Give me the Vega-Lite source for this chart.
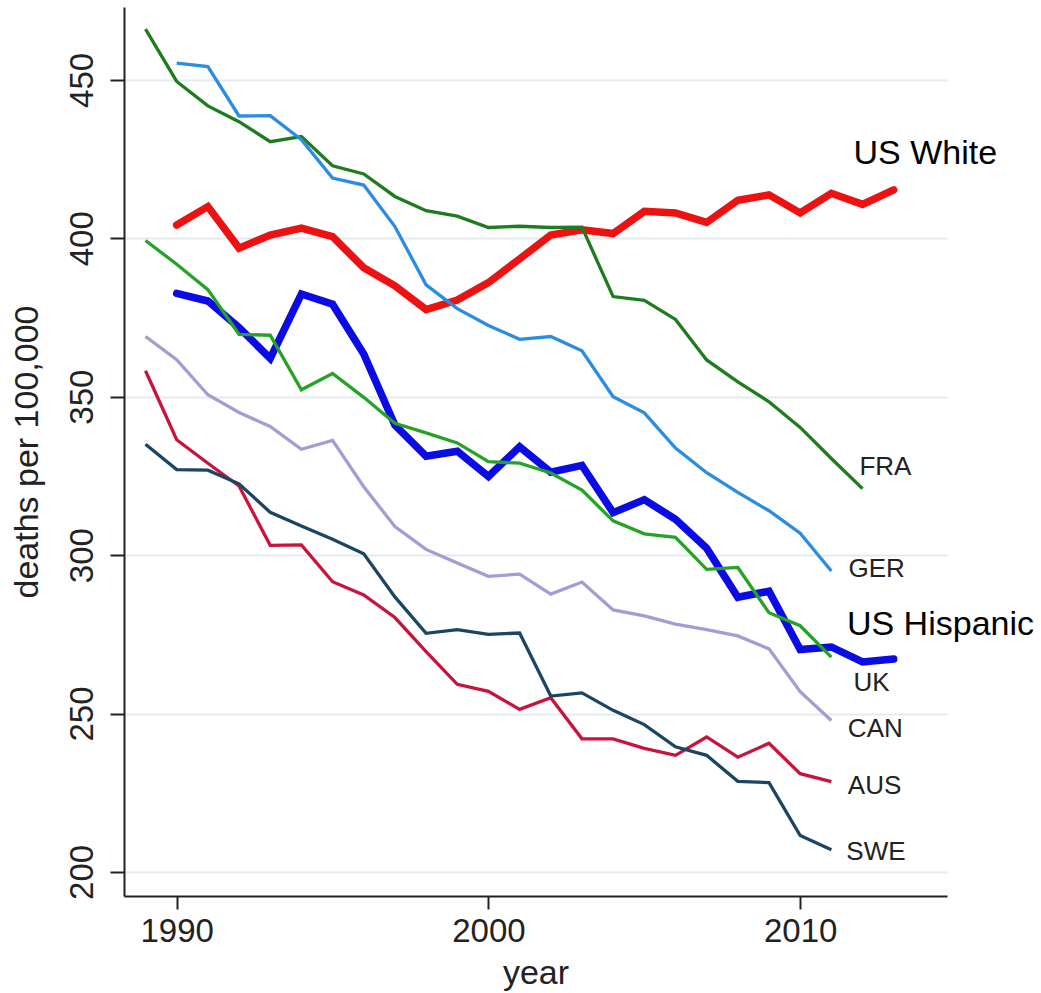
{
  "$schema": "https://vega.github.io/schema/vega-lite/v6.json",
  "width": 823,
  "height": 889,
  "autosize": {"type": "none"},
  "padding": {"left": 124, "top": 7, "right": 94, "bottom": 97},
  "background": "white",
  "config": {
    "view": {"stroke": null},
    "font": "Liberation Sans",
    "axis": {
      "labelFont": "Liberation Sans",
      "titleFont": "Liberation Sans",
      "labelColor": "#222222",
      "titleColor": "#222222",
      "titleFontWeight": "normal",
      "domainColor": "#222222",
      "domainWidth": 2,
      "tickColor": "#222222",
      "tickWidth": 2
    }
  },
  "datasets": {
    "series": [
      {"c": "FRA", "year": 1989, "v": 466},
      {"c": "FRA", "year": 1990, "v": 449.5},
      {"c": "FRA", "year": 1991, "v": 441.8},
      {"c": "FRA", "year": 1992, "v": 436.8},
      {"c": "FRA", "year": 1993, "v": 430.5},
      {"c": "FRA", "year": 1994, "v": 432.1},
      {"c": "FRA", "year": 1995, "v": 422.9},
      {"c": "FRA", "year": 1996, "v": 420.3},
      {"c": "FRA", "year": 1997, "v": 413.2},
      {"c": "FRA", "year": 1998, "v": 408.7},
      {"c": "FRA", "year": 1999, "v": 407},
      {"c": "FRA", "year": 2000, "v": 403.4},
      {"c": "FRA", "year": 2001, "v": 403.8},
      {"c": "FRA", "year": 2002, "v": 403.4},
      {"c": "FRA", "year": 2003, "v": 403.5},
      {"c": "FRA", "year": 2004, "v": 381.6},
      {"c": "FRA", "year": 2005, "v": 380.4},
      {"c": "FRA", "year": 2006, "v": 374.4},
      {"c": "FRA", "year": 2007, "v": 361.6},
      {"c": "FRA", "year": 2008, "v": 354.7},
      {"c": "FRA", "year": 2009, "v": 348.4},
      {"c": "FRA", "year": 2010, "v": 340.3},
      {"c": "FRA", "year": 2011, "v": 330.5},
      {"c": "FRA", "year": 2012, "v": 321},
      {"c": "GER", "year": 1990, "v": 455.3},
      {"c": "GER", "year": 1991, "v": 454.2},
      {"c": "GER", "year": 1992, "v": 438.6},
      {"c": "GER", "year": 1993, "v": 438.7},
      {"c": "GER", "year": 1994, "v": 431.1},
      {"c": "GER", "year": 1995, "v": 419},
      {"c": "GER", "year": 1996, "v": 416.8},
      {"c": "GER", "year": 1997, "v": 403.7},
      {"c": "GER", "year": 1998, "v": 385.3},
      {"c": "GER", "year": 1999, "v": 377.8},
      {"c": "GER", "year": 2000, "v": 372.5},
      {"c": "GER", "year": 2001, "v": 368.1},
      {"c": "GER", "year": 2002, "v": 369},
      {"c": "GER", "year": 2003, "v": 364.5},
      {"c": "GER", "year": 2004, "v": 350},
      {"c": "GER", "year": 2005, "v": 344.9},
      {"c": "GER", "year": 2006, "v": 333.8},
      {"c": "GER", "year": 2007, "v": 326},
      {"c": "GER", "year": 2008, "v": 319.8},
      {"c": "GER", "year": 2009, "v": 314},
      {"c": "GER", "year": 2010, "v": 306.9},
      {"c": "GER", "year": 2011, "v": 295},
      {"c": "UK", "year": 1989, "v": 399.3},
      {"c": "UK", "year": 1990, "v": 391.8},
      {"c": "UK", "year": 1991, "v": 383.8},
      {"c": "UK", "year": 1992, "v": 369.7},
      {"c": "UK", "year": 1993, "v": 369.4},
      {"c": "UK", "year": 1994, "v": 352.2},
      {"c": "UK", "year": 1995, "v": 357.3},
      {"c": "UK", "year": 1996, "v": 349.8},
      {"c": "UK", "year": 1997, "v": 341.6},
      {"c": "UK", "year": 1998, "v": 338.6},
      {"c": "UK", "year": 1999, "v": 335.4},
      {"c": "UK", "year": 2000, "v": 329.5},
      {"c": "UK", "year": 2001, "v": 329},
      {"c": "UK", "year": 2002, "v": 325.9},
      {"c": "UK", "year": 2003, "v": 320.5},
      {"c": "UK", "year": 2004, "v": 310.8},
      {"c": "UK", "year": 2005, "v": 306.7},
      {"c": "UK", "year": 2006, "v": 305.6},
      {"c": "UK", "year": 2007, "v": 295.5},
      {"c": "UK", "year": 2008, "v": 296.1},
      {"c": "UK", "year": 2009, "v": 281.8},
      {"c": "UK", "year": 2010, "v": 277.7},
      {"c": "UK", "year": 2011, "v": 267.8},
      {"c": "CAN", "year": 1989, "v": 369},
      {"c": "CAN", "year": 1990, "v": 361.7},
      {"c": "CAN", "year": 1991, "v": 350.6},
      {"c": "CAN", "year": 1992, "v": 345},
      {"c": "CAN", "year": 1993, "v": 340.6},
      {"c": "CAN", "year": 1994, "v": 333.4},
      {"c": "CAN", "year": 1995, "v": 336.2},
      {"c": "CAN", "year": 1996, "v": 321.6},
      {"c": "CAN", "year": 1997, "v": 309},
      {"c": "CAN", "year": 1998, "v": 301.8},
      {"c": "CAN", "year": 1999, "v": 297.5},
      {"c": "CAN", "year": 2000, "v": 293.3},
      {"c": "CAN", "year": 2001, "v": 294},
      {"c": "CAN", "year": 2002, "v": 287.7},
      {"c": "CAN", "year": 2003, "v": 291.5},
      {"c": "CAN", "year": 2004, "v": 282.7},
      {"c": "CAN", "year": 2005, "v": 280.8},
      {"c": "CAN", "year": 2006, "v": 278.2},
      {"c": "CAN", "year": 2007, "v": 276.5},
      {"c": "CAN", "year": 2008, "v": 274.5},
      {"c": "CAN", "year": 2009, "v": 270.4},
      {"c": "CAN", "year": 2010, "v": 256.9},
      {"c": "CAN", "year": 2011, "v": 247.8},
      {"c": "AUS", "year": 1989, "v": 358.2},
      {"c": "AUS", "year": 1990, "v": 336.4},
      {"c": "AUS", "year": 1991, "v": 329},
      {"c": "AUS", "year": 1992, "v": 321.8},
      {"c": "AUS", "year": 1993, "v": 303.1},
      {"c": "AUS", "year": 1994, "v": 303.2},
      {"c": "AUS", "year": 1995, "v": 291.6},
      {"c": "AUS", "year": 1996, "v": 287.4},
      {"c": "AUS", "year": 1997, "v": 280.3},
      {"c": "AUS", "year": 1998, "v": 269.5},
      {"c": "AUS", "year": 1999, "v": 259.2},
      {"c": "AUS", "year": 2000, "v": 257},
      {"c": "AUS", "year": 2001, "v": 251.3},
      {"c": "AUS", "year": 2002, "v": 255},
      {"c": "AUS", "year": 2003, "v": 242},
      {"c": "AUS", "year": 2004, "v": 242},
      {"c": "AUS", "year": 2005, "v": 239},
      {"c": "AUS", "year": 2006, "v": 236.8},
      {"c": "AUS", "year": 2007, "v": 242.6},
      {"c": "AUS", "year": 2008, "v": 236.2},
      {"c": "AUS", "year": 2009, "v": 240.6},
      {"c": "AUS", "year": 2010, "v": 231},
      {"c": "AUS", "year": 2011, "v": 228.5},
      {"c": "SWE", "year": 1989, "v": 335},
      {"c": "SWE", "year": 1990, "v": 327},
      {"c": "SWE", "year": 1991, "v": 326.8},
      {"c": "SWE", "year": 1992, "v": 322.5},
      {"c": "SWE", "year": 1993, "v": 313.5},
      {"c": "SWE", "year": 1994, "v": 309.2},
      {"c": "SWE", "year": 1995, "v": 305},
      {"c": "SWE", "year": 1996, "v": 300.4},
      {"c": "SWE", "year": 1997, "v": 286.8},
      {"c": "SWE", "year": 1998, "v": 275.3},
      {"c": "SWE", "year": 1999, "v": 276.5},
      {"c": "SWE", "year": 2000, "v": 275},
      {"c": "SWE", "year": 2001, "v": 275.4},
      {"c": "SWE", "year": 2002, "v": 255.5},
      {"c": "SWE", "year": 2003, "v": 256.5},
      {"c": "SWE", "year": 2004, "v": 251},
      {"c": "SWE", "year": 2005, "v": 246.5},
      {"c": "SWE", "year": 2006, "v": 239.5},
      {"c": "SWE", "year": 2007, "v": 236.8},
      {"c": "SWE", "year": 2008, "v": 228.6},
      {"c": "SWE", "year": 2009, "v": 228.2},
      {"c": "SWE", "year": 2010, "v": 211.5},
      {"c": "SWE", "year": 2011, "v": 207}
    ],
    "us": [
      {"c": "US White", "year": 1990, "v": 404.2},
      {"c": "US White", "year": 1991, "v": 410},
      {"c": "US White", "year": 1992, "v": 396.9},
      {"c": "US White", "year": 1993, "v": 401},
      {"c": "US White", "year": 1994, "v": 403.2},
      {"c": "US White", "year": 1995, "v": 400.5},
      {"c": "US White", "year": 1996, "v": 390.7},
      {"c": "US White", "year": 1997, "v": 385},
      {"c": "US White", "year": 1998, "v": 377.5},
      {"c": "US White", "year": 1999, "v": 380.5},
      {"c": "US White", "year": 2000, "v": 386},
      {"c": "US White", "year": 2001, "v": 393.5},
      {"c": "US White", "year": 2002, "v": 401},
      {"c": "US White", "year": 2003, "v": 402.7},
      {"c": "US White", "year": 2004, "v": 401.5},
      {"c": "US White", "year": 2005, "v": 408.5},
      {"c": "US White", "year": 2006, "v": 408},
      {"c": "US White", "year": 2007, "v": 405},
      {"c": "US White", "year": 2008, "v": 412},
      {"c": "US White", "year": 2009, "v": 413.7},
      {"c": "US White", "year": 2010, "v": 408},
      {"c": "US White", "year": 2011, "v": 414.2},
      {"c": "US White", "year": 2012, "v": 410.7},
      {"c": "US White", "year": 2013, "v": 415.3},
      {"c": "US Hispanic", "year": 1990, "v": 382.6},
      {"c": "US Hispanic", "year": 1991, "v": 380.2},
      {"c": "US Hispanic", "year": 1992, "v": 371.8},
      {"c": "US Hispanic", "year": 1993, "v": 362.1},
      {"c": "US Hispanic", "year": 1994, "v": 382.4},
      {"c": "US Hispanic", "year": 1995, "v": 379.2},
      {"c": "US Hispanic", "year": 1996, "v": 363.5},
      {"c": "US Hispanic", "year": 1997, "v": 341},
      {"c": "US Hispanic", "year": 1998, "v": 331.2},
      {"c": "US Hispanic", "year": 1999, "v": 332.8},
      {"c": "US Hispanic", "year": 2000, "v": 324.8},
      {"c": "US Hispanic", "year": 2001, "v": 334.2},
      {"c": "US Hispanic", "year": 2002, "v": 326.2},
      {"c": "US Hispanic", "year": 2003, "v": 328.3},
      {"c": "US Hispanic", "year": 2004, "v": 313.4},
      {"c": "US Hispanic", "year": 2005, "v": 317.5},
      {"c": "US Hispanic", "year": 2006, "v": 311.3},
      {"c": "US Hispanic", "year": 2007, "v": 302.2},
      {"c": "US Hispanic", "year": 2008, "v": 286.7},
      {"c": "US Hispanic", "year": 2009, "v": 288.6},
      {"c": "US Hispanic", "year": 2010, "v": 270.2},
      {"c": "US Hispanic", "year": 2011, "v": 271},
      {"c": "US Hispanic", "year": 2012, "v": 266.3},
      {"c": "US Hispanic", "year": 2013, "v": 267.2}
    ],
    "countryLabels": [
      {"label": "FRA", "year": 2011.9, "v": 327.7},
      {"label": "GER", "year": 2011.55, "v": 295.5},
      {"label": "UK", "year": 2011.71, "v": 259.7},
      {"label": "CAN", "year": 2011.53, "v": 245},
      {"label": "AUS", "year": 2011.53, "v": 227.1},
      {"label": "SWE", "year": 2011.48, "v": 206.3}
    ],
    "usLabels": [
      {"label": "US White", "year": 2011.71, "v": 426.7},
      {"label": "US Hispanic", "year": 2011.5, "v": 278}
    ]
  },
  "layer": [
    {
      "data": {"name": "us"},
      "mark": {"type": "line", "strokeWidth": 7.5, "strokeJoin": "miter", "strokeCap": "round"},
      "encoding": {
        "x": {
          "field": "year", "type": "quantitative",
          "scale": {"domain": [1988.31, 2014.71], "nice": false, "zero": false},
          "axis": {
            "values": [1990, 2000, 2010], "format": "d", "grid": false,
            "title": "year", "titleFontSize": 34, "titlePadding": 8,
            "labelFontSize": 33, "labelPadding": 6, "tickSize": 13, "labelFlush": false
          }
        },
        "y": {
          "field": "v", "type": "quantitative",
          "scale": {"domain": [192.4, 473], "nice": false, "zero": false},
          "axis": {
            "values": [200, 250, 300, 350, 400, 450], "grid": true,
            "gridColor": "#e3ebee", "gridWidth": 2,
            "title": "deaths per 100,000", "titleFontSize": 34, "titlePadding": 22,
            "labelFontSize": 33, "labelAngle": -90, "labelAlign": "center",
            "labelBaseline": "alphabetic", "labelPadding": 18, "tickSize": 14, "labelFlush": false
          }
        },
        "detail": {"field": "c"},
        "color": {
          "field": "c", "type": "nominal", "legend": null,
          "scale": {"domain": ["US White", "US Hispanic"], "range": ["#ee1111", "#0b0be6"]}
        }
      }
    },
    {
      "data": {"name": "series"},
      "mark": {"type": "line", "strokeWidth": 3.3, "strokeJoin": "miter"},
      "encoding": {
        "x": {"field": "year", "type": "quantitative"},
        "y": {"field": "v", "type": "quantitative"},
        "stroke": {
          "field": "c", "type": "nominal", "legend": null,
          "scale": {
            "domain": ["FRA", "GER", "UK", "CAN", "AUS", "SWE"],
            "range": ["#1e7b1e", "#2b8de0", "#26a326", "#a89bd4", "#c8143c", "#1a4563"]
          }
        }
      }
    },
    {
      "data": {"name": "countryLabels"},
      "mark": {"type": "text", "align": "left", "baseline": "middle", "fontSize": 26, "font": "Liberation Sans", "color": "#222222"},
      "encoding": {
        "x": {"field": "year", "type": "quantitative"},
        "y": {"field": "v", "type": "quantitative"},
        "text": {"field": "label"}
      }
    },
    {
      "data": {"name": "usLabels"},
      "mark": {"type": "text", "align": "left", "baseline": "middle", "fontSize": 34, "font": "Liberation Sans", "color": "#000000"},
      "encoding": {
        "x": {"field": "year", "type": "quantitative"},
        "y": {"field": "v", "type": "quantitative"},
        "text": {"field": "label"}
      }
    }
  ]
}
